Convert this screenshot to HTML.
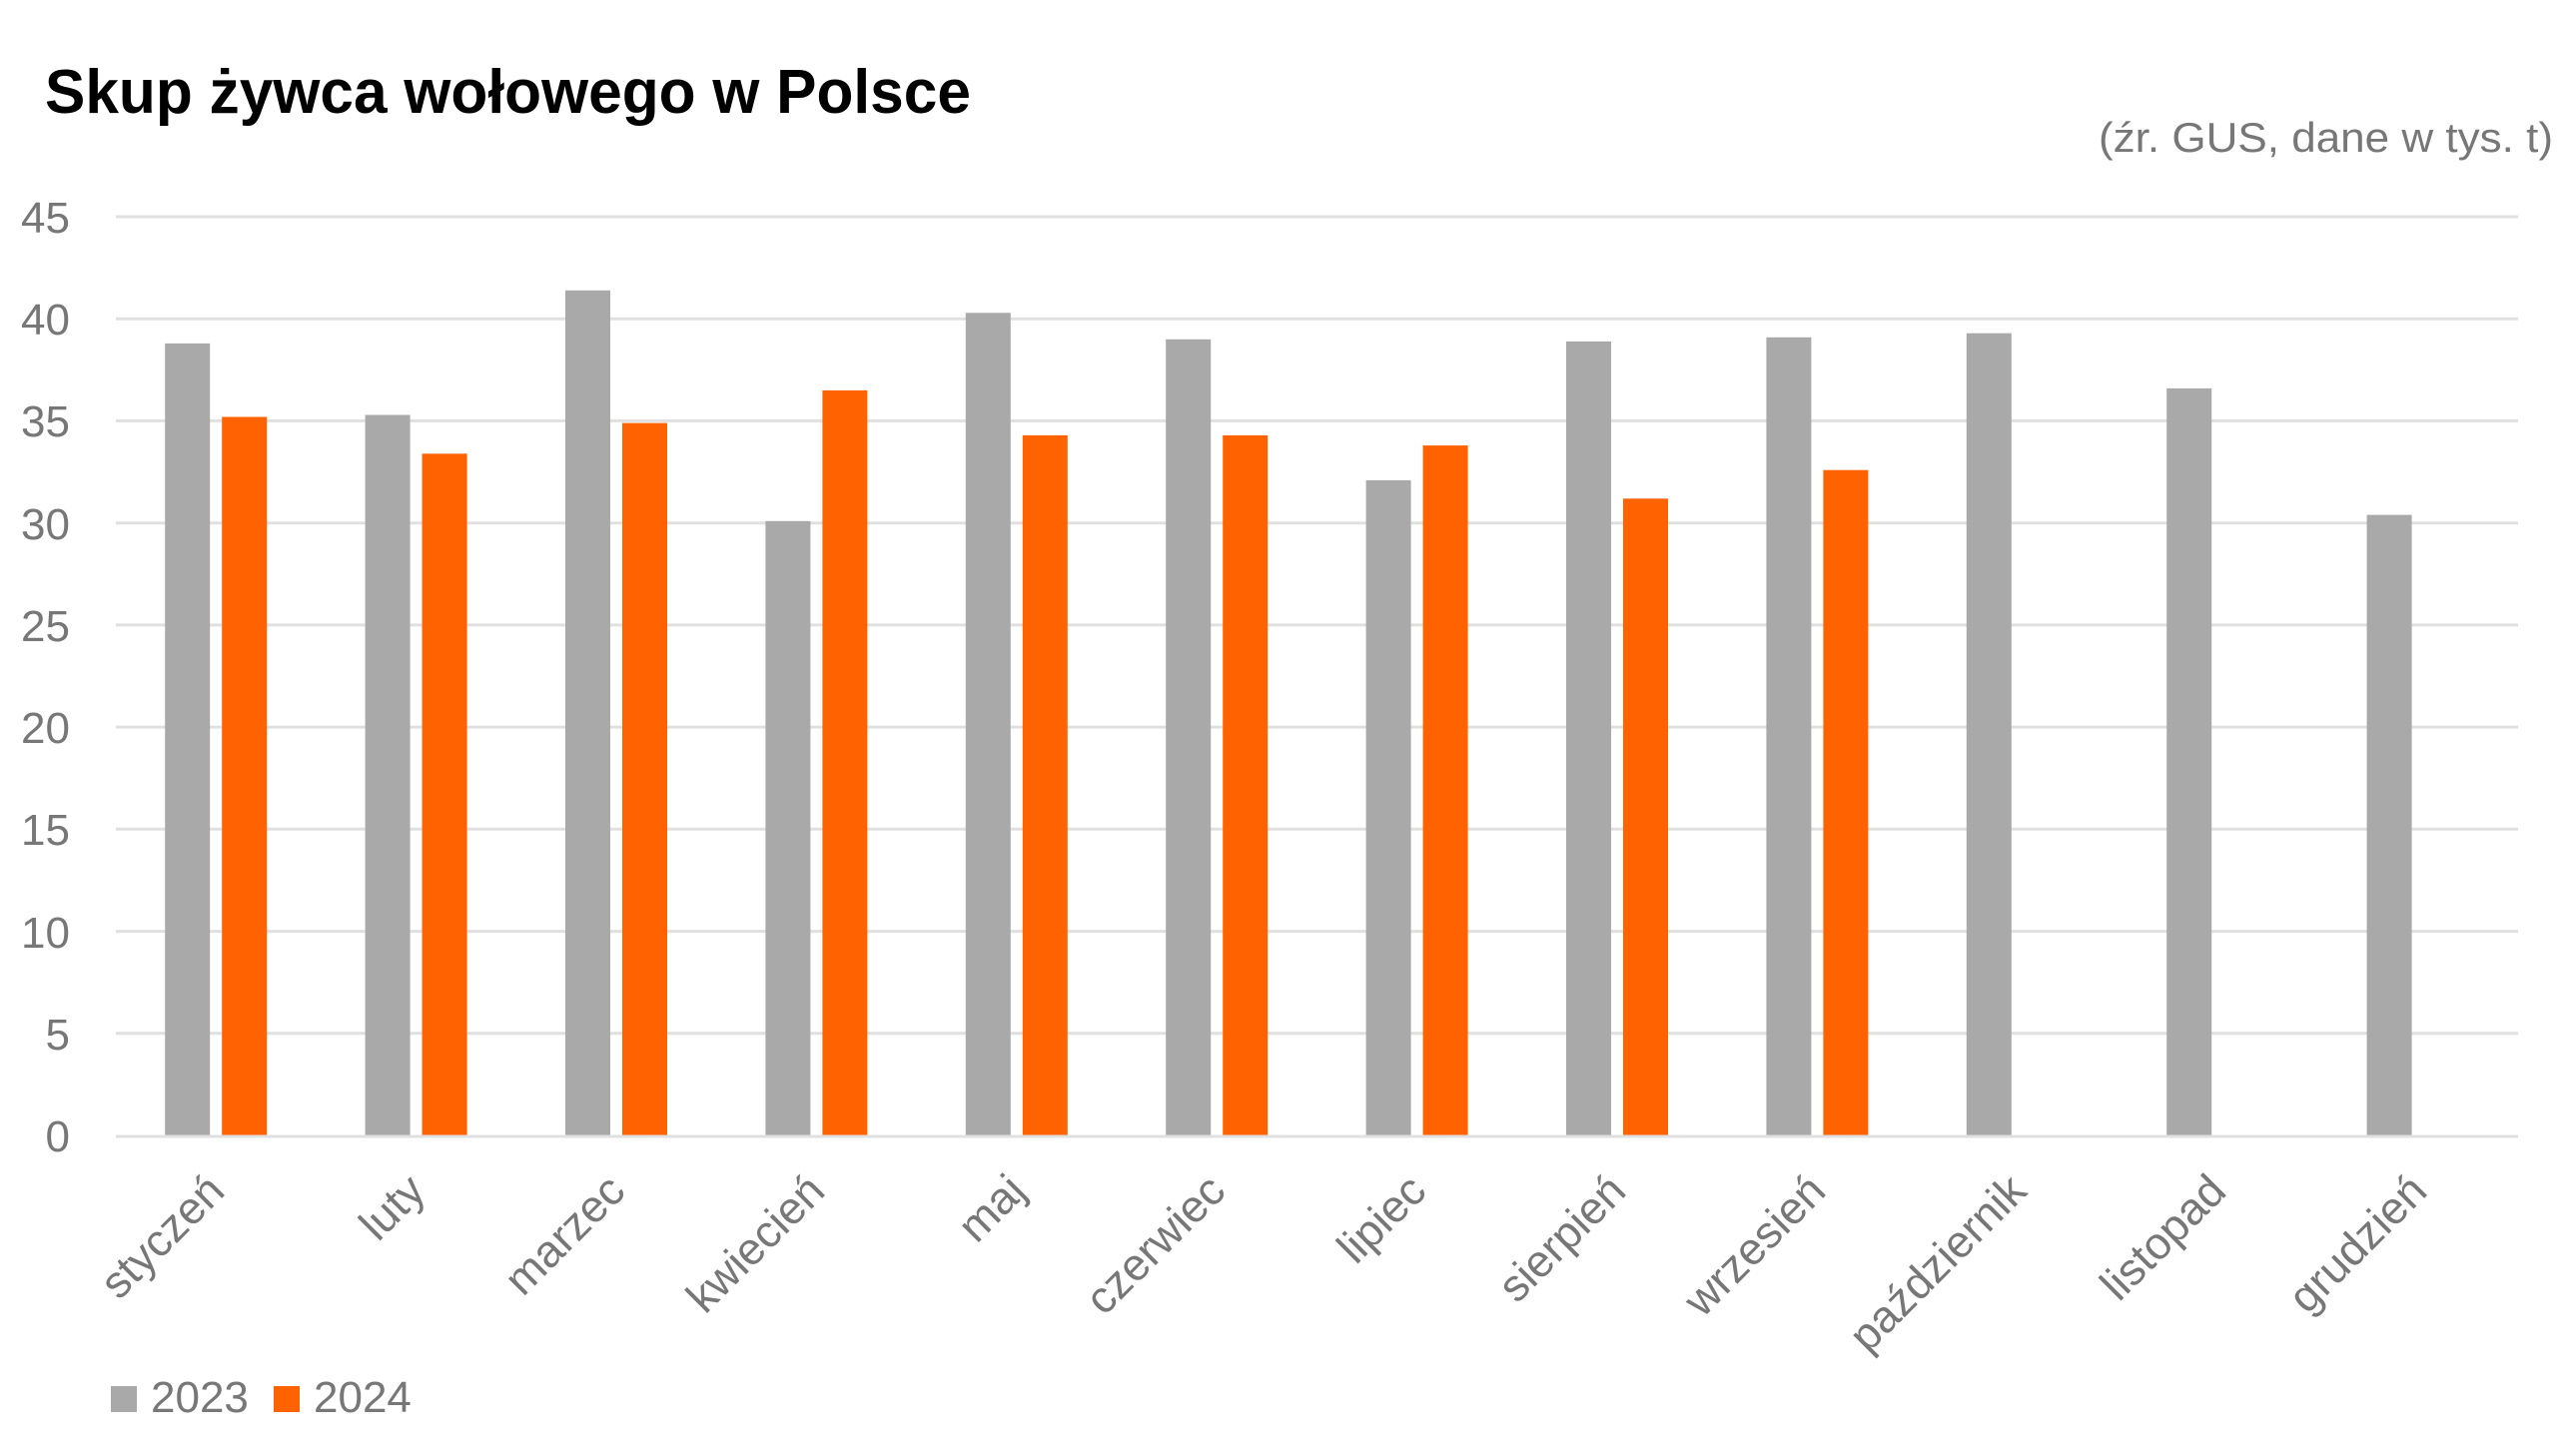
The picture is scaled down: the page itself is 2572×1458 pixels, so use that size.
<!DOCTYPE html>
<html><head><meta charset="utf-8"><style>html,body{margin:0;padding:0;background:#fff}svg{display:block}</style></head>
<body>
<svg xmlns="http://www.w3.org/2000/svg" width="2572" height="1458" viewBox="0 0 2572 1458" font-family="Liberation Sans, DejaVu Sans, sans-serif">
<rect width="2572" height="1458" fill="#fff"/>
<text x="45" y="113" font-size="62" font-weight="bold" fill="#000" textLength="927" lengthAdjust="spacingAndGlyphs">Skup żywca wołowego w Polsce</text>
<text x="2556" y="152" font-size="42" fill="#777" text-anchor="end" textLength="455" lengthAdjust="spacingAndGlyphs">(źr. GUS, dane w tys. t)</text>
<g stroke="#e0e0e0" stroke-width="3">
<line x1="116" x2="2521" y1="217" y2="217"/>
<line x1="116" x2="2521" y1="319.2" y2="319.2"/>
<line x1="116" x2="2521" y1="421.4" y2="421.4"/>
<line x1="116" x2="2521" y1="523.7" y2="523.7"/>
<line x1="116" x2="2521" y1="625.9" y2="625.9"/>
<line x1="116" x2="2521" y1="728.1" y2="728.1"/>
<line x1="116" x2="2521" y1="830.3" y2="830.3"/>
<line x1="116" x2="2521" y1="932.6" y2="932.6"/>
<line x1="116" x2="2521" y1="1034.8" y2="1034.8"/>
</g>
<g font-size="44" fill="#777" text-anchor="end">
<text x="70" y="233">45</text><text x="70" y="335">40</text><text x="70" y="437">35</text><text x="70" y="540">30</text><text x="70" y="642">25</text><text x="70" y="744">20</text><text x="70" y="846">15</text><text x="70" y="949">10</text><text x="70" y="1051">5</text><text x="70" y="1153">0</text>
</g>
<g fill="#a9a9a9">
<rect x="165.2" y="343.9" width="45" height="793.1"/>
<rect x="365.6" y="415.5" width="45" height="721.5"/>
<rect x="566.0" y="290.8" width="45" height="846.2"/>
<rect x="766.4" y="521.8" width="45" height="615.2"/>
<rect x="966.8" y="313.3" width="45" height="823.7"/>
<rect x="1167.2" y="339.8" width="45" height="797.2"/>
<rect x="1367.6" y="480.9" width="45" height="656.1"/>
<rect x="1568.0" y="341.9" width="45" height="795.1"/>
<rect x="1768.4" y="337.8" width="45" height="799.2"/>
<rect x="1968.8" y="333.7" width="45" height="803.3"/>
<rect x="2169.2" y="388.9" width="45" height="748.1"/>
<rect x="2369.6" y="515.6" width="45" height="621.4"/>
</g>
<g fill="#ff6200">
<rect x="222.2" y="417.5" width="45" height="719.5"/>
<rect x="422.6" y="454.3" width="45" height="682.7"/>
<rect x="623.0" y="423.6" width="45" height="713.4"/>
<rect x="823.4" y="390.9" width="45" height="746.1"/>
<rect x="1023.8" y="435.9" width="45" height="701.1"/>
<rect x="1224.2" y="435.9" width="45" height="701.1"/>
<rect x="1424.6" y="446.1" width="45" height="690.9"/>
<rect x="1625.0" y="499.3" width="45" height="637.7"/>
<rect x="1825.4" y="470.7" width="45" height="666.3"/>
</g>
<line x1="116" x2="2521" y1="1138" y2="1138" stroke="#e0e0e0" stroke-width="3"/>
<g font-size="45" fill="#777" text-anchor="end">
<text x="227" y="1195" transform="rotate(-45 227 1195)">styczeń</text>
<text x="428" y="1195" transform="rotate(-45 428 1195)">luty</text>
<text x="628" y="1195" transform="rotate(-45 628 1195)">marzec</text>
<text x="828" y="1195" transform="rotate(-45 828 1195)">kwiecień</text>
<text x="1029" y="1195" transform="rotate(-45 1029 1195)">maj</text>
<text x="1229" y="1195" transform="rotate(-45 1229 1195)">czerwiec</text>
<text x="1430" y="1195" transform="rotate(-45 1430 1195)">lipiec</text>
<text x="1630" y="1195" transform="rotate(-45 1630 1195)">sierpień</text>
<text x="1830" y="1195" transform="rotate(-45 1830 1195)">wrzesień</text>
<text x="2031" y="1195" transform="rotate(-45 2031 1195)">październik</text>
<text x="2231" y="1195" transform="rotate(-45 2231 1195)">listopad</text>
<text x="2432" y="1195" transform="rotate(-45 2432 1195)">grudzień</text>
</g>
<rect x="111" y="1388" width="26" height="26" fill="#a9a9a9"/>
<text x="151" y="1414" font-size="44" fill="#777">2023</text>
<rect x="274" y="1388" width="26" height="26" fill="#ff6200"/>
<text x="314" y="1414" font-size="44" fill="#777">2024</text>
</svg>
</body></html>
